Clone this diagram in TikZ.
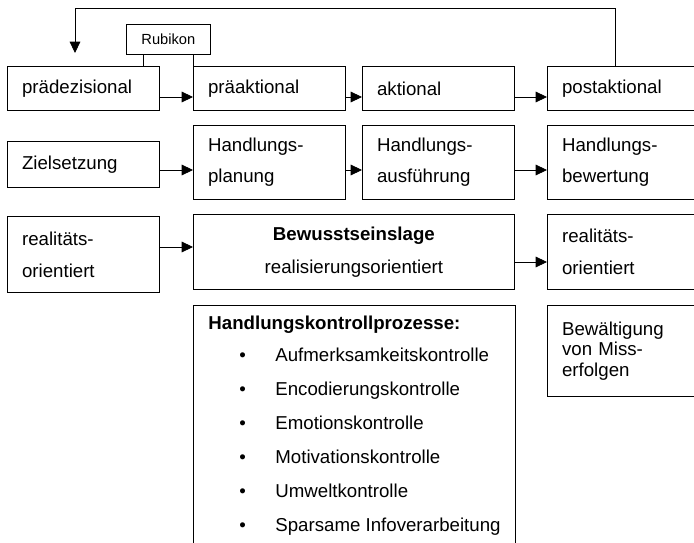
\documentclass[tikz,border=0pt]{standalone}
\usepackage{fontspec}
\setmainfont{Liberation Sans}
\usetikzlibrary{arrows.meta}

\begin{document}
\begin{tikzpicture}[
      x = .75pt, y = -.75pt,
      font = \fontsize{14}{23}\selectfont,
      line width = .6pt,
      box/.style = {
        rectangle,
        draw = black,
        anchor = north west,
        align = left,
        inner xsep = 11pt,
        inner ysep = 0pt,
      },
      tag/.style = {
        rectangle,
        draw = black,
        anchor = north west,
        font = \fontsize{11}{13}\selectfont,
        minimum width = 63pt,
        minimum height = 22.5pt,
        inner sep = 0pt,
      },
      item/.style = {
        anchor = base west,
        inner sep = 0pt,
      },
      arrow/.style = {
        -{Triangle[length = 8.5pt, width = 8pt]},
      },
    ]
    \useasboundingbox (0,0) rectangle (694,543);
    \clip (0,0) rectangle (694,543);

    % phases
    \node[box, text width = 92pt, minimum height = 33pt] (praedez) at (7,66) {prädezisional};
    \node[box, text width = 92pt, minimum height = 33pt] (praeakt) at (193,66) {präaktional};
    \node[box, text width = 92pt, minimum height = 33pt] (aktional) at (362,66) {aktional};
    \node[box, text width = 90pt, minimum height = 33pt] (postakt) at (547,66) {postaktional};

    % tasks
    \node[box, text width = 92pt, minimum height = 34.5pt] (ziel) at (7,141) {Zielsetzung};
    \node[box, text width = 92pt, minimum height = 55.5pt] (planung) at (193,125) {Handlungs-\\planung};
    \node[box, text width = 92pt, minimum height = 55.5pt] (ausfuehrung) at (362,125) {Handlungs-\\ausführung};
    \node[box, text width = 90pt, minimum height = 55.5pt] (bewertung) at (547,125) {Handlungs-\\bewertung};

    % mindsets
    \node[box, text width = 92pt, minimum height = 57pt, font = \fontsize{14}{24}\selectfont] (realL) at (7,216) {realitäts-\\orientiert};
    \node[box, text width = 218.75pt, minimum height = 56.25pt, align = center, font = \fontsize{14}{24.75}\selectfont] (bewusst) at (193,214) {\textbf{Bewusstseinslage}\\realisierungsorientiert};
    \node[box, text width = 90pt, minimum height = 56.25pt, font = \fontsize{14}{24}\selectfont] (realR) at (547,214) {realitäts-\\orientiert};

    % control processes
    \node[box, text width = 90pt, minimum height = 68.25pt, font = \fontsize{14}{15.4}\selectfont] (bewaelt) at (547,305) {Bewältigung\\von Miss-\\erfolgen};
    \node[box, minimum width = 241.5pt, minimum height = 200pt] (hk) at (193,305) {};
    \node[item, font = \fontsize{14}{23}\bfseries] (hkhead) at (208,329) {Handlungskontrollprozesse:};
    \foreach \name [count = \i] in {Aufmerksamkeitskontrolle, Encodierungskontrolle,
        Emotionskontrolle, Motivationskontrolle, Umweltkontrolle, Sparsame Infoverarbeitung}
      \node[item] (hk\i) at (239,327+34*\i) {\makebox[27pt][l]{\textbullet}\name};

    % Rubikon
    \node[tag] (rubikon) at (126,24) {Rubikon};
    \draw (rubikon.south -| 143,0) -- (praedez.north -| 143,0);
    \draw (rubikon.south -| praeakt.west) -- (praeakt.north west);

    % arrows
    \draw[arrow] (praedez.east |- 0,97) -- (praeakt.west |- 0,97);
    \draw[arrow] (praeakt.east |- 0,97) -- (aktional.west |- 0,97);
    \draw[arrow] (aktional.east |- 0,97) -- (postakt.west |- 0,97);
    \draw[arrow] (ziel.east |- 0,170) -- (planung.west |- 0,170);
    \draw[arrow] (planung.east |- 0,170) -- (ausfuehrung.west |- 0,170);
    \draw[arrow] (ausfuehrung.east |- 0,170) -- (bewertung.west |- 0,170);
    \draw[arrow] (realL.east |- 0,247) -- (bewusst.west |- 0,247);
    \draw[arrow] (bewusst.east |- 0,262) -- (realR.west |- 0,262);

    % feedback
    \coordinate (back) at (75,53);
    \draw[arrow] (postakt.north -| 615,0) |- (back |- 0,8) -- (back);
  \end{tikzpicture}
\end{document}
